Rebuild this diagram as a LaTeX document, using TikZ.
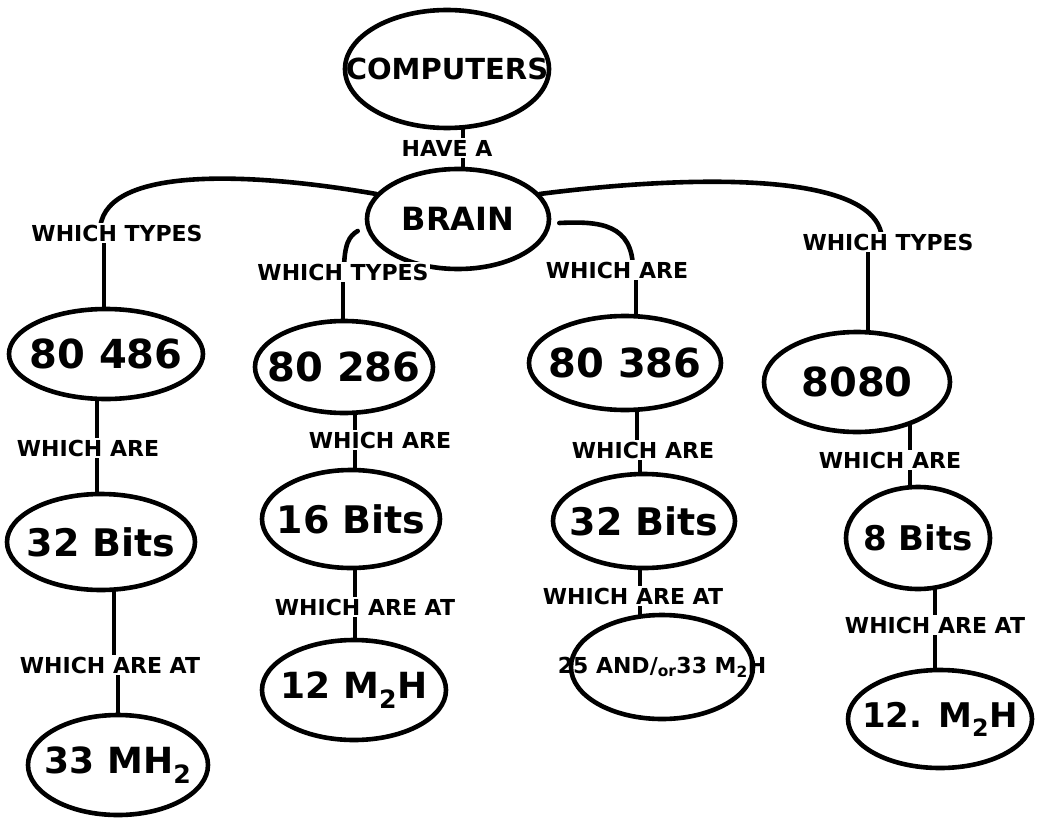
\documentclass[tikz,border=0pt]{standalone}
\usepackage{fontspec}
\setmainfont{DejaVu Sans}
\usetikzlibrary{shapes.geometric,backgrounds}
\newcommand\nt[1]{\makebox[0pt]{#1}}
\newcommand\fs[1]{\fontsize{#1}{#1}\selectfont\bfseries}
\begin{document}
\begin{tikzpicture}[x=1pt,y=-1pt,
  ell/.style={ellipse,draw,line width=4.6pt,fill=white,inner sep=0pt},
  lab/.style={fill=white,inner sep=1.5pt,font=\fs{22}},
  con/.style={line width=4.6pt,line cap=round}]
\useasboundingbox (0,0) rectangle (1040,821);
% main nodes
\node[ell,minimum width=204,minimum height=118,font=\fs{29}] (comp) at (447,69) {\nt{COMPUTERS}};
\node[ell,minimum width=182,minimum height=100,font=\fs{32}] (brain) at (458,219) {\nt{BRAIN}};
\node[ell,minimum width=194,minimum height=90,font=\fs{40}] (n486) at (106,354) {\nt{80 486}};
\node[ell,minimum width=178,minimum height=92,font=\fs{40}] (n286) at (344,367) {\nt{80 286}};
\node[ell,minimum width=192,minimum height=94,font=\fs{40}] (n386) at (625,363) {\nt{80 386}};
\node[ell,minimum width=186,minimum height=100,font=\fs{40}] (n8080) at (857,382) {\nt{8080}};
\node[ell,minimum width=188,minimum height=96,font=\fs{38}] (b32a) at (101,542) {\nt{32 Bits}};
\node[ell,minimum width=178,minimum height=98,font=\fs{38}] (b16) at (351,519) {\nt{16 Bits}};
\node[ell,minimum width=182,minimum height=94,font=\fs{38}] (b32b) at (644,521) {\nt{32 Bits}};
\node[ell,minimum width=144,minimum height=102,font=\fs{34}] (b8) at (918,538) {\nt{8 Bits}};
\node[ell,minimum width=180,minimum height=100,font=\fs{36}] (s33) at (118,765) {\nt{33 MH\textsubscript{2}}};
\node[ell,minimum width=184,minimum height=100,font=\fs{36}] (s12a) at (354,690) {\nt{12 M\textsubscript{2}H}};
\node[ell,minimum width=182,minimum height=104,font=\fs{22}] (s25) at (662,667) {\nt{25 AND/\textsubscript{or}33 M\textsubscript{2}H}};
\node[ell,minimum width=184,minimum height=98,font=\fs{34}] (s12b) at (940,719) {\nt{12. M\textsubscript{2}H}};
% labels
\node[lab] (have) at (447,148) {HAVE A};
\node[lab] (ltypes) at (117,233) {WHICH TYPES};
\node[lab] (mtypes) at (343,272) {WHICH TYPES};
\node[lab] (rare) at (617,270) {WHICH ARE};
\node[lab] (rtypes) at (888,242) {WHICH TYPES};
\node[lab] (a1) at (88,448) {WHICH ARE};
\node[lab] (a2) at (110,665) {WHICH ARE AT};
\node[lab] (b1) at (380,440) {WHICH ARE};
\node[lab] (b2) at (365,607) {WHICH ARE AT};
\node[lab] (c1) at (643,450) {WHICH ARE};
\node[lab] (c2) at (633,596) {WHICH ARE AT};
\node[lab] (d1) at (890,460) {WHICH ARE};
\node[lab] (d2) at (935,625) {WHICH ARE AT};
% connectors
\begin{pgfonlayer}{background}
\draw[con] (comp -| 463,0) -- (have -| 463,0) -- (brain -| 463,0);
\draw[con] (brain.163) .. controls (250,172) and (98,165) .. (ltypes -| 100,0);
\draw[con] (ltypes -| 104,0) -- (n486 -| 104,0);
\draw[con] (brain.17) .. controls (680,176) and (884,168) .. (rtypes -| 882,0);
\draw[con] (rtypes -| 868,0) -- (n8080 -| 868,0);
\draw[con] ([shift={(-7,12)}]brain.west) .. controls (349,236) and (344,244) .. (mtypes -| 344,0);
\draw[con] (mtypes -| 343,0) -- (n286 -| 343,0);
\draw[con] ([shift={(8,4)}]brain.east) .. controls (600,221) and (633,224) .. (rare -| 633,0);
\draw[con] (rare -| 636,0) -- (n386 -| 636,0);
\draw[con] (n486 -| 97,0) -- (a1 -| 97,0) -- (b32a -| 97,0);
\draw[con] (b32a -| 114,0) -- (a2 -| 114,0);
\draw[con] (a2 -| 118,0) -- (s33 -| 118,0);
\draw[con] (n286 -| 355,0) -- (b1 -| 355,0) -- (b16 -| 355,0) -- (b2 -| 355,0) -- (s12a -| 355,0);
\draw[con] (n386 -| 637,0) -- (c1 -| 637,0);
\draw[con] (c1 -| 640,0) -- (b32b -| 640,0) -- (c2 -| 640,0) -- (s25 -| 640,0);
\draw[con] (n8080 -| 910,0) -- (d1 -| 910,0) -- (b8 -| 910,0);
\draw[con] (b8 -| 935,0) -- (d2 -| 935,0) -- (s12b -| 935,0);
\end{pgfonlayer}
\end{tikzpicture}
\end{document}
